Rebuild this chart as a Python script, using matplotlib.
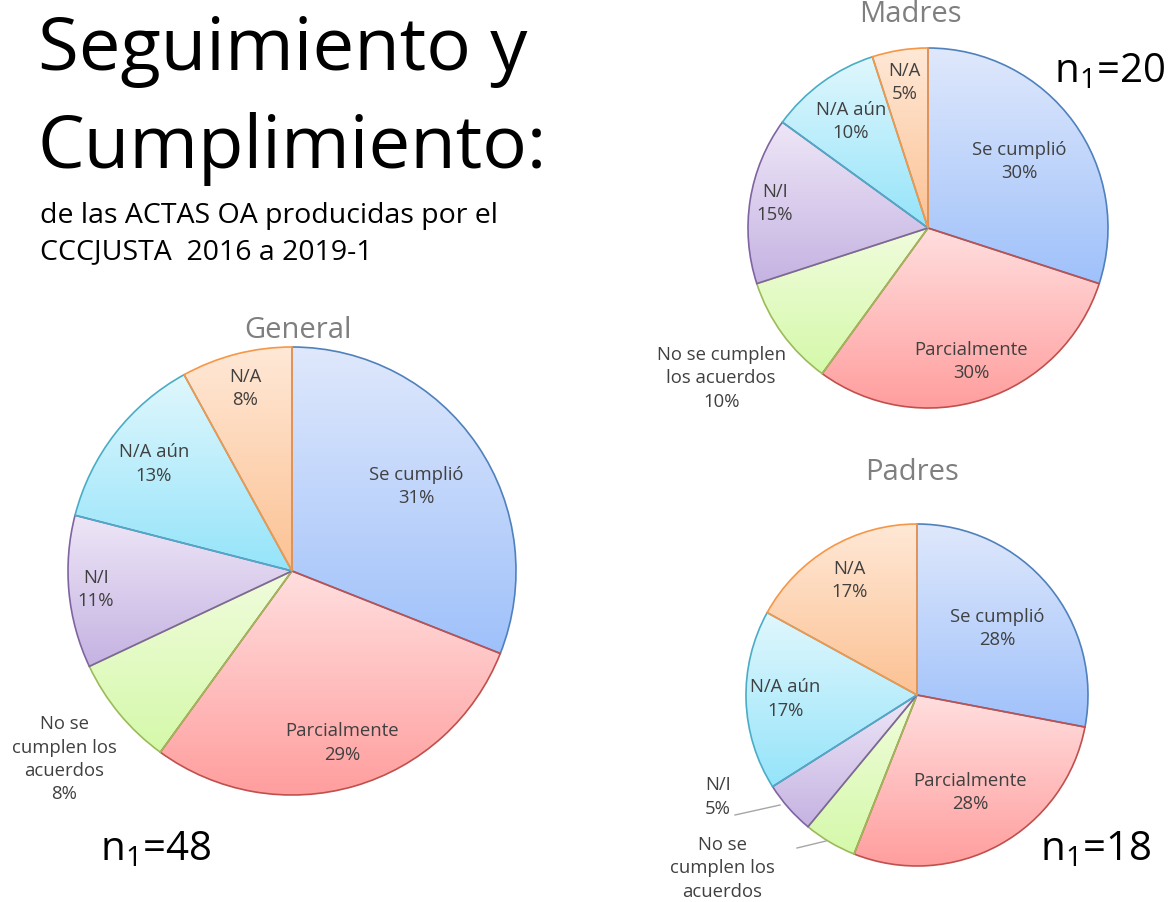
import numpy as np
import matplotlib
matplotlib.use("Agg")
import matplotlib.pyplot as plt

plt.rcParams['font.family'] = ['Open Sans', 'DejaVu Sans']
plt.rcParams['mathtext.fontset'] = 'custom'
plt.rcParams['mathtext.rm'] = 'Open Sans'

# datos (porcentajes)
categorias = ["Se cumplió", "Parcialmente", "No se cumplen los acuerdos", "N/I", "N/A aún", "N/A"]
general = [31, 29, 8, 11, 13, 8]
madres = [30, 30, 10, 15, 10, 5]
padres = [28, 28, 5, 5, 17, 17]

# colores: (arriba, abajo, borde)
colores = [
    ("#dfe8fc", "#9fc1fa", "#4f81bd"),
    ("#ffdede", "#ff9e9e", "#c0504d"),
    ("#f0fcdc", "#d5f9aa", "#9bbb59"),
    ("#eee6f7", "#c5b3e2", "#8064a2"),
    ("#e0f7fd", "#95e4fa", "#4bacc6"),
    ("#ffe8d6", "#fcc294", "#f79646"),
]

W, H = 1170, 902
fig = plt.figure(figsize=(W / 100, H / 100), dpi=100)
ax = fig.add_axes([0, 0, 1, 1])


def gradiente(c1, c2, n=64):
    a = np.array(matplotlib.colors.to_rgb(c1))
    b = np.array(matplotlib.colors.to_rgb(c2))
    t = np.linspace(0, 1, n)[:, None]
    return (a + (b - a) * t)[:, None, :]


def pastel(valores, cx, cy, r, titulo, tpos, etiquetas, dist, fijas=None, explode=None):
    y0 = H - cy
    fijas = fijas or {}
    wedges, _ = ax.pie(valores, startangle=90, counterclock=False, center=(cx, y0),
                       radius=r, explode=explode, frame=True,
                       wedgeprops=dict(linewidth=1.2))
    for w, (c1, c2, ce) in zip(wedges, colores):
        w.set_facecolor("none")
        w.set_edgecolor(ce)
        w.set_zorder(3)
        bb = w.get_path().get_extents()
        im = ax.imshow(gradiente(c1, c2), extent=[bb.x0, bb.x1, bb.y0, bb.y1],
                       origin="upper", aspect="auto", zorder=2, interpolation="bilinear")
        im.set_clip_path(w)
    for i, (w, txt, d) in enumerate(zip(wedges, etiquetas, dist)):
        if i in fijas:
            x, y = fijas[i][0], H - fijas[i][1]
        else:
            ang = np.deg2rad((w.theta1 + w.theta2) / 2)
            x = w.center[0] + d * r * np.cos(ang)
            y = w.center[1] + d * r * np.sin(ang)
        ax.text(x, y, txt, ha="center", va="center", fontsize=13.3, color="#404040",
                linespacing=1.38, zorder=5)
    ax.text(tpos[0], H - tpos[1], titulo, ha="center", va="center", fontsize=21,
            color="#7f7f7f", zorder=5)
    return wedges


def etq(valores, nombres):
    return [f"{n}\n{v}%" for n, v in zip(nombres, valores)]


pastel(general, 292, 571, 224, "General", (298, 330),
       etq(general, ["Se cumplió", "Parcialmente", "No se\ncumplen los\nacuerdos",
                     "N/I", "N/A aún", "N/A"]),
       [0.67, 0.8, 1.32, 0.88, 0.78, 0.84])

pastel(madres, 928, 228, 180, "Madres", (910, 15),
       etq(madres, ["Se cumplió", "Parcialmente", "No se cumplen\nlos acuerdos",
                    "N/I", "N/A aún", "N/A"]),
       [0.63, 0.78, 1.42, 0.86, 0.73, 0.82],
       explode=[0, 0.02, 0, 0, 0, 0])

pastel(padres, 917, 695, 171, "Padres", (912, 473),
       etq(padres, ["Se cumplió", "Parcialmente", "No se\ncumplen los\nacuerdos",
                    "N/I", "N/A aún", "N/A"]),
       [0.61, 0.65, 1.55, 1.32, 0.77, 0.78],
       fijas={2: (722, 880), 3: (718, 797)})

# lineas guia (Padres)
ax.plot([735, 780], [H - 815, H - 805], color="#a6a6a6", lw=1, zorder=4)
ax.plot([797, 826], [H - 848, H - 841], color="#a6a6a6", lw=1, zorder=4)

# titulos
ax.text(38, H - 70, "Seguimiento y", fontsize=53.5, ha="left", va="baseline", color="black")
ax.text(38, H - 168, "Cumplimiento:", fontsize=53.5, ha="left", va="baseline", color="black")
ax.text(40, H - 223, "de las ACTAS OA producidas por el", fontsize=20.5, ha="left",
        va="baseline", color="black")
ax.text(40, H - 259, "CCCJUSTA  2016 a 2019-1", fontsize=20.5, ha="left",
        va="baseline", color="black")

ax.text(100, H - 860, r"n$_\mathrm{1}$=48", fontsize=29, ha="left", va="baseline")
ax.text(1054, H - 82, r"n$_\mathrm{1}$=20", fontsize=29, ha="left", va="baseline")
ax.text(1040, H - 860, r"n$_\mathrm{1}$=18", fontsize=29, ha="left", va="baseline")

ax.set_xlim(0, W)
ax.set_ylim(0, H)
ax.set_aspect("auto")
ax.axis("off")

fig.savefig("out.png", dpi=100, facecolor="white")
